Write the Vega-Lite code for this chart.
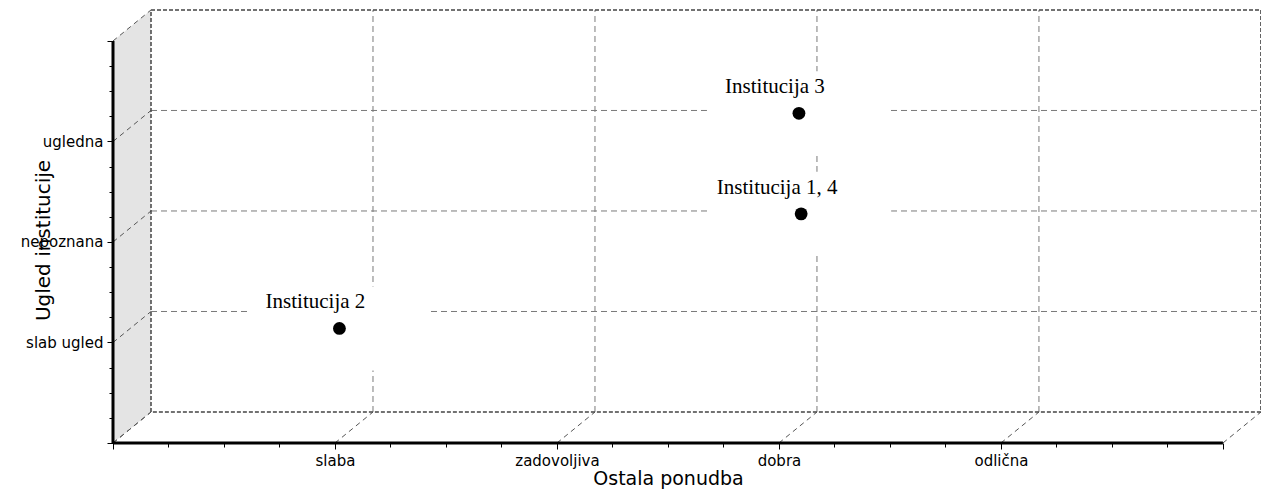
{
  "$schema": "https://vega.github.io/schema/vega-lite/v6.json",
  "width": 1147,
  "height": 435,
  "autosize": {"type": "none"},
  "padding": {"left": 113, "top": 8, "right": 1, "bottom": 47},
  "background": "white",
  "config": {"view": {"stroke": null}},
  "resolve": {"axis": {"x": "independent", "y": "independent"}},
  "datasets": {
    "xcats": [{"pos": 0}, {"pos": 1}, {"pos": 2}, {"pos": 3}, {"pos": 4}, {"pos": 5}],
    "ycats": [{"pos": 0}, {"pos": 1}, {"pos": 2}, {"pos": 3}, {"pos": 4}],
    "side": [{"px": 0, "lo": 0, "hi": 4}, {"px": 0.1712, "lo": 0.3085, "hi": 4.3085}],
    "inst": [
      {"ustanova": "Institucija 2", "ponudba": 1.02, "ugled": 1.14},
      {"ustanova": "Institucija 3", "ponudba": 3.09, "ugled": 3.28},
      {"ustanova": "Institucija 1, 4", "ponudba": 3.10, "ugled": 2.28}
    ]
  },
  "layer": [
    {
      "data": {"name": "side"},
      "mark": {"type": "area", "fill": "#e4e4e4", "stroke": null},
      "encoding": {
        "x": {"field": "px", "type": "quantitative", "scale": {"domain": [0, 5.167], "nice": false, "zero": false}, "axis": null},
        "y": {"field": "lo", "type": "quantitative", "scale": {"domain": [0, 4.328], "nice": false, "zero": false}, "axis": null},
        "y2": {"field": "hi"}
      }
    },
    {
      "data": {"name": "xcats"},
      "transform": [{"filter": "datum.pos > 0 && datum.pos < 5"}],
      "mark": {"type": "rule", "color": "#7a7a7a", "strokeDash": [6, 4], "strokeWidth": 1, "xOffset": 38, "yOffset": -31, "y2Offset": -31},
      "encoding": {
        "x": {"field": "pos", "type": "quantitative", "scale": {"domain": [0, 5.167], "nice": false, "zero": false}, "axis": null},
        "y": {"datum": 0, "type": "quantitative", "scale": {"domain": [0, 4.328], "nice": false, "zero": false}, "axis": null},
        "y2": {"datum": 4}
      }
    },
    {
      "data": {"name": "ycats"},
      "transform": [{"filter": "datum.pos > 0 && datum.pos < 4"}],
      "mark": {"type": "rule", "color": "#7a7a7a", "strokeDash": [6, 4], "strokeWidth": 1, "xOffset": 38, "x2Offset": 38, "yOffset": -31},
      "encoding": {
        "y": {"field": "pos", "type": "quantitative", "scale": {"domain": [0, 4.328], "nice": false, "zero": false}, "axis": null},
        "x": {"datum": 0, "type": "quantitative", "scale": {"domain": [0, 5.167], "nice": false, "zero": false}, "axis": null},
        "x2": {"datum": 5}
      }
    },
    {
      "data": {"name": "xcats"},
      "mark": {"type": "rule", "color": "#555555", "strokeDash": [5, 4], "strokeWidth": 1, "x2Offset": 38, "y2Offset": -31},
      "encoding": {
        "x": {"field": "pos", "type": "quantitative", "scale": {"domain": [0, 5.167], "nice": false, "zero": false}, "axis": null},
        "x2": {"field": "pos"},
        "y": {"datum": 0, "type": "quantitative", "scale": {"domain": [0, 4.328], "nice": false, "zero": false}, "axis": null},
        "y2": {"datum": 0}
      }
    },
    {
      "data": {"name": "ycats"},
      "mark": {"type": "rule", "color": "#555555", "strokeDash": [5, 4], "strokeWidth": 1, "x2Offset": 38, "y2Offset": -31},
      "encoding": {
        "y": {"field": "pos", "type": "quantitative", "scale": {"domain": [0, 4.328], "nice": false, "zero": false}, "axis": null},
        "y2": {"field": "pos"},
        "x": {"datum": 0, "type": "quantitative", "scale": {"domain": [0, 5.167], "nice": false, "zero": false}, "axis": null},
        "x2": {"datum": 0}
      }
    },
    {
      "data": {"values": [{}]},
      "mark": {"type": "rect", "fill": null, "fillOpacity": 0, "stroke": "#444444", "strokeDash": [4, 2], "strokeWidth": 1.5, "xOffset": 38, "x2Offset": 38, "yOffset": -31, "y2Offset": -31},
      "encoding": {
        "x": {"datum": 0, "type": "quantitative", "scale": {"domain": [0, 5.167], "nice": false, "zero": false}, "axis": null},
        "x2": {"datum": 5},
        "y": {"datum": 0, "type": "quantitative", "scale": {"domain": [0, 4.328], "nice": false, "zero": false}, "axis": null},
        "y2": {"datum": 4}
      }
    },
    {
      "data": {"values": [{}]},
      "mark": {"type": "rule", "color": "black", "strokeWidth": 3},
      "encoding": {
        "x": {"datum": 0, "type": "quantitative", "scale": {"domain": [0, 5.167], "nice": false, "zero": false}, "axis": null},
        "x2": {"datum": 5},
        "y": {"datum": 0, "type": "quantitative", "scale": {"domain": [0, 4.328], "nice": false, "zero": false}, "axis": null}
      }
    },
    {
      "data": {"values": [{}]},
      "mark": {"type": "rule", "color": "black", "strokeWidth": 3},
      "encoding": {
        "x": {"datum": 0, "type": "quantitative", "scale": {"domain": [0, 5.167], "nice": false, "zero": false}, "axis": null},
        "y": {"datum": 0, "type": "quantitative", "scale": {"domain": [0, 4.328], "nice": false, "zero": false}, "axis": null},
        "y2": {"datum": 4}
      }
    },
    {
      "data": {"name": "inst"},
      "mark": {"type": "point", "shape": "M-0.92,-0.42H0.9V0.42H-0.92Z", "size": 40000, "filled": true, "fill": "white", "opacity": 1, "strokeWidth": 0},
      "encoding": {
        "x": {"field": "ponudba", "type": "quantitative", "scale": {"domain": [0, 5.167], "nice": false, "zero": false}, "axis": null},
        "y": {"field": "ugled", "type": "quantitative", "scale": {"domain": [0, 4.328], "nice": false, "zero": false}, "axis": null}
      }
    },
    {
      "data": {"name": "inst"},
      "mark": {"type": "point", "shape": "circle", "size": 165, "filled": true, "color": "black", "opacity": 1},
      "encoding": {
        "x": {
          "field": "ponudba", "type": "quantitative",
          "scale": {"domain": [0, 5.167], "nice": false, "zero": false},
          "axis": {
            "title": "Ostala ponudba",
            "values": [0, 0.25, 0.5, 0.75, 1, 1.25, 1.5, 1.75, 2, 2.25, 2.5, 2.75, 3, 3.25, 3.5, 3.75, 4, 4.25, 4.5, 4.75, 5],
            "labelExpr": "datum.value == 1 ? 'slaba' : datum.value == 2 ? 'zadovoljiva' : datum.value == 3 ? 'dobra' : datum.value == 4 ? 'odlična' : ''",
            "domain": false, "grid": false,
            "tickColor": "black", "tickWidth": 1,
            "tickSize": {"condition": {"test": "datum.value % 1 === 0", "value": 6}, "value": 4},
            "labelFont": "DejaVu Sans", "labelFontSize": 15, "labelColor": "black", "labelPadding": 4,
            "labelOverlap": false, "labelFlush": false, "labelBound": false,
            "titleFont": "DejaVu Sans", "titleFontSize": 19, "titleFontWeight": "normal", "titleColor": "black",
            "titleX": 555, "titleY": 35, "titleAlign": "center", "titleBaseline": "middle"
          }
        },
        "y": {
          "field": "ugled", "type": "quantitative",
          "scale": {"domain": [0, 4.328], "nice": false, "zero": false},
          "axis": {
            "title": "Ugled institucije",
            "values": [0, 0.25, 0.5, 0.75, 1, 1.25, 1.5, 1.75, 2, 2.25, 2.5, 2.75, 3, 3.25, 3.5, 3.75, 4],
            "labelExpr": "datum.value == 1 ? 'slab ugled' : datum.value == 2 ? 'nepoznana' : datum.value == 3 ? 'ugledna' : ''",
            "domain": false, "grid": false,
            "tickColor": "black", "tickWidth": 1,
            "tickSize": {"condition": {"test": "datum.value % 1 === 0", "value": 6}, "value": 4},
            "labelFont": "DejaVu Sans", "labelFontSize": 15, "labelColor": "black", "labelPadding": 4,
            "labelOverlap": false, "labelFlush": false, "labelBound": false,
            "titleFont": "DejaVu Sans", "titleFontSize": 20, "titleFontWeight": "normal", "titleColor": "black",
            "titleX": -70, "titleY": 232, "titleAngle": -90, "titleAlign": "center", "titleBaseline": "middle"
          }
        }
      }
    },
    {
      "data": {"name": "inst"},
      "mark": {"type": "text", "font": "Liberation Serif", "fontSize": 21, "color": "black", "align": "center", "baseline": "alphabetic", "dx": -24, "dy": -20},
      "encoding": {
        "x": {"field": "ponudba", "type": "quantitative", "scale": {"domain": [0, 5.167], "nice": false, "zero": false}, "axis": null},
        "y": {"field": "ugled", "type": "quantitative", "scale": {"domain": [0, 4.328], "nice": false, "zero": false}, "axis": null},
        "text": {"field": "ustanova"}
      }
    }
  ]
}
